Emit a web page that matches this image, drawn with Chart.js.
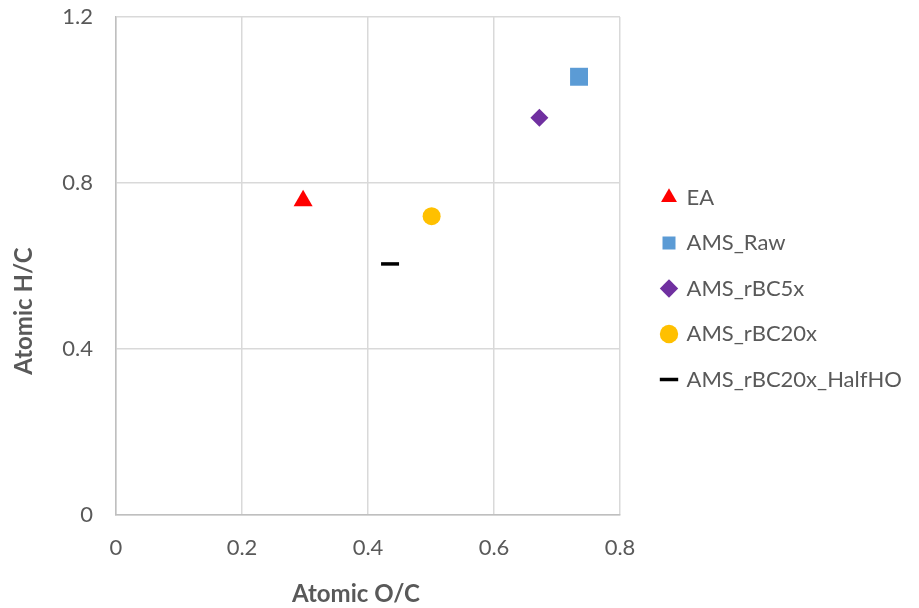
<!DOCTYPE html>
<html>
<head>
<meta charset="utf-8">
<script src="https://cdn.jsdelivr.net/npm/chart.js@4.4.1/dist/chart.umd.min.js"></script>
<style>
  html, body { margin: 0; padding: 0; background: #fff; }
  #wrap { width: 919px; height: 608px; }
</style>
</head>
<body>
<div id="wrap"><canvas id="vkChart" width="919" height="608"></canvas></div>
<script>
// series
var seriesNames = ['EA', 'AMS_Raw', 'AMS_rBC5x', 'AMS_rBC20x', 'AMS_rBC20x_HalfHO'];
var atomicOC = [0.297, 0.735, 0.672, 0.501, 0.435];
var atomicHC = [0.757, 1.056, 0.957, 0.720, 0.605];
var xTicks = [0, 0.2, 0.4, 0.6, 0.8];
var yTicks = [0, 0.4, 0.8, 1.2];
var xTitle = 'Atomic O/C';
var yTitle = 'Atomic H/C';

var colors = ['#ff0000', '#5b9bd5', '#7030a0', '#ffc000', '#000000'];
var shapes = ['triangle', 'rect', 'rectRot', 'circle', 'line'];
var radii = [11, 12.7, 9, 9, 9];

var fontFam = 'Lato, "Open Sans", sans-serif';
var grey = '#595959';

var datasets = seriesNames.map(function (name, i) {
    var isLine = shapes[i] === 'line';
    return {
        label: name,
        data: [{ x: atomicOC[i], y: atomicHC[i] }],
        pointStyle: shapes[i],
        pointRadius: radii[i],
        pointHoverRadius: radii[i],
        backgroundColor: colors[i],
        borderColor: colors[i],
        borderWidth: isLine ? 3.5 : 0,
        pointBorderWidth: isLine ? 3.5 : 0
    };
});

// legend gets a fixed width so long labels are not squeezed
var legendWidthFix = {
    id: 'legendWidthFix',
    beforeLayout: function (chart) {
        var lg = chart.legend;
        if (lg && !lg._fixed) {
            var origFit = lg.fit;
            lg.fit = function () {
                origFit.call(this);
                this.width = 280;
            };
            lg._fixed = true;
        }
    }
};

// axis titles, placed where the original has them
var axisTitles = {
    id: 'axisTitles',
    afterDraw: function (chart) {
        var c = chart.ctx;
        c.save();
        c.fillStyle = grey;
        c.font = 'bold 24px ' + fontFam;
        c.textAlign = 'center';
        c.textBaseline = 'middle';
        c.fillText(xTitle, 356, 594);
        c.translate(24, 311);
        c.rotate(-Math.PI / 2);
        c.fillText(yTitle, 0, 0);
        c.restore();
    }
};

var ctx = document.getElementById('vkChart').getContext('2d');
var vkChart = new Chart(ctx, {
    type: 'scatter',
    data: { datasets: datasets },
    plugins: [legendWidthFix, axisTitles],
    options: {
        responsive: false,
        animation: false,
        layout: { padding: { top: 17, right: 0, bottom: 48, left: 0 } },
        plugins: {
            tooltip: { enabled: false },
            legend: {
                position: 'right',
                labels: {
                    usePointStyle: true,
                    boxWidth: 13,
                    boxHeight: 13,
                    padding: 23.5,
                    color: grey,
                    font: { family: fontFam, size: 22 }
                }
            }
        },
        scales: {
            x: {
                type: 'linear',
                min: 0,
                max: 0.8,
                afterBuildTicks: function (s) { s.ticks = xTicks.map(function (v) { return { value: v }; }); },
                afterFit: function (s) { s.height = 608 - 48 - 515; },
                grid: { color: '#d9d9d9', lineWidth: 1.5, drawTicks: true, tickLength: 20, tickColor: 'rgba(0,0,0,0)' },
                border: { color: '#bfbfbf', width: 1.5 },
                ticks: { padding: 0, color: grey, font: { family: fontFam, size: 22 } }
            },
            y: {
                type: 'linear',
                min: 0,
                max: 1.2,
                afterBuildTicks: function (s) { s.ticks = yTicks.map(function (v) { return { value: v }; }); },
                afterFit: function (s) { s.width = 116; },
                grid: { color: '#d9d9d9', lineWidth: 1.5, drawTicks: true, tickLength: 23, tickColor: 'rgba(0,0,0,0)' },
                border: { color: '#bfbfbf', width: 1.5 },
                ticks: { padding: 0, color: grey, font: { family: fontFam, size: 22 } }
            },
            // empty spacer between plot and legend
            gap: {
                type: 'linear',
                position: 'right',
                afterFit: function (s) { s.width = 19; },
                grid: { display: false },
                border: { display: false },
                ticks: { display: false }
            }
        }
    }
});
</script>
</body>
</html>
